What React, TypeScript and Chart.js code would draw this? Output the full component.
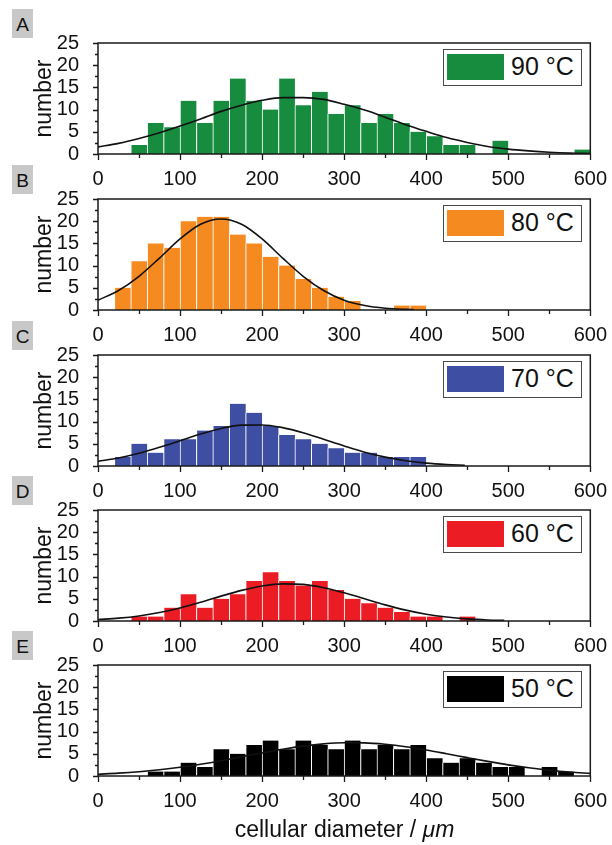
import React, { useEffect, useRef } from "react";
import { Chart, registerables } from "chart.js";

Chart.register(...registerables);

const FONT = "'Liberation Sans', Arial, Helvetica, sans-serif";

// histogram bins (20 µm wide), centres
const BIN_CENTERS = [10, 30, 50, 70, 90, 110, 130, 150, 170, 190, 210, 230, 250, 270, 290, 310, 330, 350, 370, 390, 410, 430, 450, 470, 490, 510, 530, 550, 570, 590];

const COUNTS_90 = [0, 0, 2, 7, 6, 12, 7, 12, 17, 12, 10, 17, 11, 14, 9, 11, 7, 9, 7, 5, 4, 2, 2, 0, 3, 0, 0, 0, 0, 1];
const COUNTS_80 = [0, 5, 11, 15, 14, 20, 21, 21, 17, 15, 12, 10, 7, 5, 3, 2, 0, 0, 1, 1, 0, 0, 0, 0, 0, 0, 0, 0, 0, 0];
const COUNTS_70 = [0, 2, 5, 3, 6, 6, 8, 9, 14, 12, 9, 7, 6, 5, 4, 3, 3, 2, 2, 2, 0, 0, 0, 0, 0, 0, 0, 0, 0, 0];
const COUNTS_60 = [0, 0, 1, 1, 3, 6, 3, 5, 6, 9, 11, 9, 8, 9, 7, 5, 4, 3, 2, 1, 1, 0, 1, 0, 0, 0, 0, 0, 0, 0];
const COUNTS_50 = [0, 0, 0, 1, 1, 3, 2, 6, 5, 7, 8, 6, 8, 7, 6, 8, 6, 7, 6, 7, 4, 3, 4, 3, 2, 2, 0, 2, 1, 0];

// fitted curves
const FIT_X_FULL = [0, 25, 50, 75, 100, 125, 150, 175, 200, 225, 250, 275, 300, 325, 350, 375, 400, 425, 450, 475, 500, 525, 550, 575, 600];
const FIT_90 = [1.6, 2.4, 3.5, 4.8, 6.3, 7.9, 9.6, 11.0, 12.1, 12.7, 12.7, 12.3, 11.2, 9.9, 8.3, 6.6, 5.1, 3.7, 2.6, 1.7, 1.1, 0.7, 0.4, 0.2, 0.1];
const FIT_X_80 = [0, 25, 50, 75, 100, 125, 150, 175, 200, 225, 250, 275, 300, 325, 350, 375, 385];
const FIT_80 = [2.2, 4.4, 7.6, 11.7, 16.0, 19.3, 20.5, 19.3, 16.0, 11.7, 7.6, 4.4, 2.2, 1.0, 0.4, 0.15, 0.1];
const FIT_X_70 = [0, 25, 50, 75, 100, 125, 150, 175, 200, 225, 250, 275, 300, 325, 350, 375, 400, 425, 447];
const FIT_70 = [1.05, 1.8, 2.85, 4.2, 5.7, 7.2, 8.45, 9.2, 9.25, 8.65, 7.5, 6.0, 4.5, 3.1, 2.0, 1.2, 0.65, 0.33, 0.17];
const FIT_X_60 = [0, 25, 50, 75, 100, 125, 150, 175, 200, 225, 250, 275, 300, 325, 350, 375, 400, 425, 450, 475, 495];
const FIT_60 = [0.33, 0.64, 1.14, 1.9, 2.94, 4.2, 5.6, 6.9, 7.9, 8.37, 8.24, 7.5, 6.36, 5.0, 3.63, 2.45, 1.53, 0.89, 0.48, 0.24, 0.13];
const FIT_50 = [0.41, 0.64, 0.97, 1.41, 1.97, 2.66, 3.45, 4.32, 5.2, 6.03, 6.73, 7.23, 7.48, 7.45, 7.14, 6.6, 5.87, 5.02, 4.14, 3.29, 2.51, 1.85, 1.31, 0.89, 0.59];

const X_TICKS = [0, 100, 200, 300, 400, 500, 600];
const Y_TICKS = [0, 5, 10, 15, 20, 25];
const LETTERS = ["A", "B", "C", "D", "E"];
const LABELS = ["90 °C", "80 °C", "70 °C", "60 °C", "50 °C"];
const COLORS = ["#178c3f", "#f58b20", "#3e4ea2", "#ec1c24", "#000000"];

const PANELS = [
  { counts: COUNTS_90, fitX: FIT_X_FULL, fitY: FIT_90 },
  { counts: COUNTS_80, fitX: FIT_X_80, fitY: FIT_80 },
  { counts: COUNTS_70, fitX: FIT_X_70, fitY: FIT_70 },
  { counts: COUNTS_60, fitX: FIT_X_60, fitY: FIT_60 },
  { counts: COUNTS_50, fitX: FIT_X_FULL, fitY: FIT_50 },
];

// layout
const PLOT_TOPS = [43, 199, 355, 510, 665];
const PAD_TOP = 43;
const PLOT_H = 111;
const X_AXIS_H = 40;
const CANVAS_H = PAD_TOP + PLOT_H + X_AXIS_H;
const AXIS_LEFT = 98;
const PAD_RIGHT = 21;

const framePlugin = {
  id: "frameTicks",
  afterDatasetsDraw(chart: any) {
    const { ctx, chartArea, scales } = chart;
    const { left, right, top, bottom } = chartArea;
    const x = scales.x;
    const y = scales.y;
    ctx.save();
    ctx.strokeStyle = "#1a1a1a";
    ctx.lineWidth = 1.5;
    ctx.strokeRect(left, top, right - left, bottom - top);
    ctx.lineWidth = 1.3;
    ctx.beginPath();
    for (let v = 0; v <= 600; v += 50) {
      const px = Math.round(x.getPixelForValue(v)) + 0.5;
      const len = v % 100 === 0 ? 6 : 4;
      ctx.moveTo(px, bottom);
      ctx.lineTo(px, bottom + len);
    }
    for (let v = 0; v <= 25; v += 2.5) {
      const py = Math.round(y.getPixelForValue(v)) + 0.5;
      const len = v % 5 === 0 ? 5 : 3;
      ctx.moveTo(left, py);
      ctx.lineTo(left - len, py);
    }
    ctx.stroke();
    ctx.restore();
  },
};

function Panel({ idx }: { idx: number }) {
  const ref = useRef<HTMLCanvasElement | null>(null);
  const p = PANELS[idx];
  const plotTop = PLOT_TOPS[idx];
  useEffect(() => {
    const chart = new Chart(ref.current as HTMLCanvasElement, {
      type: "bar",
      data: {
        datasets: [
          {
            type: "line",
            data: p.fitX.map((x, i) => ({ x, y: p.fitY[i] })),
            borderColor: "#111111",
            borderWidth: 1.6,
            pointRadius: 0,
            cubicInterpolationMode: "monotone",
            fill: false,
            order: 0,
          } as any,
          {
            type: "bar",
            data: BIN_CENTERS.map((x, i) => ({ x, y: p.counts[i] })),
            backgroundColor: COLORS[idx],
            borderColor: "#ffffff",
            borderWidth: { left: 1, right: 0, top: 0, bottom: 0 },
            borderSkipped: "start",
            barPercentage: 1,
            categoryPercentage: 1,
            order: 1,
          } as any,
        ],
      },
      options: {
        animation: false,
        responsive: false,
        devicePixelRatio: 1,
        events: [],
        layout: { padding: { top: PAD_TOP, right: PAD_RIGHT, left: 0, bottom: 0 } },
        plugins: { legend: { display: false }, tooltip: { enabled: false }, title: { display: false } },
        scales: {
          x: {
            type: "linear",
            min: 0,
            max: 600,
            offset: false,
            grid: { display: false, offset: false },
            border: { display: false },
            afterBuildTicks: (s: any) => {
              s.ticks = X_TICKS.map((v) => ({ value: v }));
            },
            afterFit: (s: any) => {
              s.height = X_AXIS_H;
            },
            ticks: {
              autoSkip: false,
              maxRotation: 0,
              padding: 5,
              color: "#111111",
              font: { family: FONT, size: 20 },
            },
          },
          y: {
            type: "linear",
            min: 0,
            max: 25,
            grid: { display: false },
            border: { display: false },
            afterBuildTicks: (s: any) => {
              s.ticks = Y_TICKS.map((v) => ({ value: v }));
            },
            afterFit: (s: any) => {
              s.width = AXIS_LEFT;
            },
            ticks: {
              autoSkip: false,
              padding: 11,
              color: "#111111",
              font: { family: FONT, size: 20 },
            },
            title: {
              display: true,
              text: "number",
              color: "#111111",
              font: { family: FONT, size: 23 },
              padding: { top: 31, bottom: 0 },
            },
          },
        },
      } as any,
      plugins: [framePlugin],
    });
    return () => chart.destroy();
  }, []);

  return (
    <>
      <canvas
        ref={ref}
        width={612}
        height={CANVAS_H}
        style={{ position: "absolute", left: 0, top: plotTop - PAD_TOP, width: 612, height: CANVAS_H }}
      />
      <div
        style={{
          position: "absolute",
          left: 12,
          top: plotTop - 34,
          width: 21,
          height: 29,
          background: "#c8c8c8",
          color: "#111",
          fontFamily: FONT,
          fontSize: 19,
          lineHeight: "31px",
          textAlign: "center",
        }}
      >
        {LETTERS[idx]}
      </div>
      <div
        style={{
          position: "absolute",
          left: 443,
          top: plotTop + 6,
          width: 139,
          height: 37,
          boxSizing: "border-box",
          border: "1.5px solid #4a4a4a",
          background: "#ffffff",
        }}
      />
      <div
        style={{
          position: "absolute",
          left: 446.5,
          top: plotTop + 11,
          width: 57,
          height: 26,
          background: COLORS[idx],
        }}
      />
      <div
        style={{
          position: "absolute",
          left: 511,
          top: plotTop + 11,
          fontFamily: FONT,
          fontSize: 25,
          lineHeight: "25px",
          color: "#111",
          whiteSpace: "nowrap",
        }}
      >
        {LABELS[idx]}
      </div>
    </>
  );
}

export default function App() {
  return (
    <div
      style={{
        position: "absolute",
        left: 0,
        top: 0,
        width: 612,
        height: 845,
        background: "#ffffff",
        overflow: "hidden",
      }}
    >
      {PANELS.map((_, i) => (
        <Panel key={i} idx={i} />
      ))}
      <div
        style={{
          position: "absolute",
          left: AXIS_LEFT,
          top: 818,
          width: 612 - AXIS_LEFT - PAD_RIGHT,
          textAlign: "center",
          fontFamily: FONT,
          fontSize: 23,
          lineHeight: "23px",
          color: "#111",
          whiteSpace: "nowrap",
        }}
      >
        cellular diameter / <i>μm</i>
      </div>
    </div>
  );
}
